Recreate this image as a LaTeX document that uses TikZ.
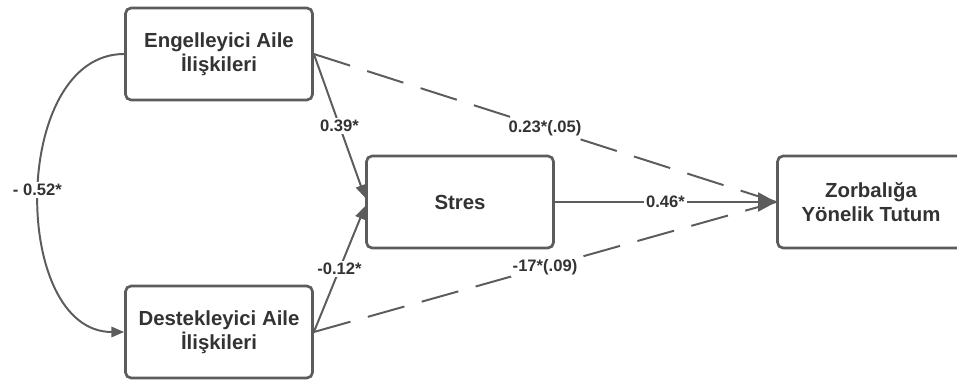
\documentclass[tikz,border=0pt]{standalone}
\usepackage{fontspec}
\setmainfont{Liberation Sans}
\usetikzlibrary{arrows.meta}
\definecolor{linegray}{HTML}{5C5C5C}
\definecolor{textgray}{HTML}{333333}
\tikzset{
    box/.style={draw=linegray, line width=1.9pt, rounded corners=4pt, fill=white,
        minimum width=4.675cm, minimum height=2.3cm, align=center, text=textgray,
        font=\fontsize{14.5}{17}\selectfont\bfseries},
    conn/.style={draw=linegray, line width=1.4pt},
    lbl/.style={fill=white, inner sep=1.5pt, text=textgray,
        font=\fontsize{11.8}{13}\selectfont\bfseries},
    tip/.style={-{Triangle[length=0.32cm, width=0.26cm]}},
    bigtip/.style={-{Triangle[length=0.45cm, width=0.475cm]}}
}
\begin{document}
\begin{tikzpicture}[x=0.025cm, y=-0.025cm]
            \useasboundingbox (0, 0) rectangle (957, 380);

            \node[box] (E) at (219, 54) {Engelleyici Aile\\İlişkileri};
            \node[box] (D) at (219, 332) {Destekleyici Aile\\İlişkileri};
            \node[box] (S) at (460, 202) {Stres};
            \node[box] (Z) at (871, 202) {Zorbalığa\\Yönelik Tutum};

            \foreach \a/\t in {E/{0.23*(.05)}, D/{-17*(.09)}}{
                \draw[conn, dash pattern=on 0.95cm off 0.45cm] (\a.east) -- node[lbl] {\t} (Z.west);
            }

            \draw[conn, tip] (E.east) -- node[lbl] {0.39*} ([yshift=3pt]S.west);
            \draw[conn, tip] (D.east) -- node[lbl] {-0.12*} ([yshift=-3pt]S.west);
            \draw[conn, bigtip] (S.east) -- node[lbl] {0.46*} (Z.west);

            \draw[conn, tip] (E.west) to[out=180, in=180, looseness=1.05] node[lbl, xshift=-1pt, yshift=2pt] {- 0.52*} (D.west);

        \end{tikzpicture}
\end{document}
